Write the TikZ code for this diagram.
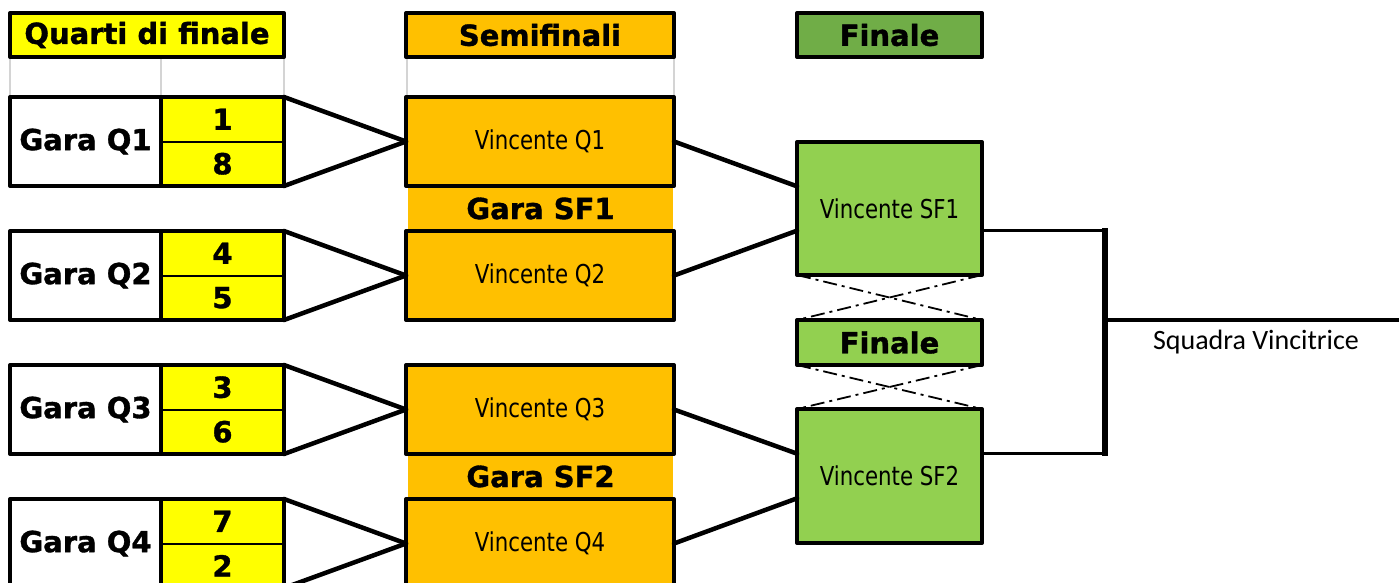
\documentclass[tikz,border=0pt]{standalone}
\usepackage{fontspec}
\usetikzlibrary{calc}
\newfontfamily\garafont{DejaVu Sans}[BoldFeatures={FakeBold=1.2}]
\newfontfamily\vincfont{DejaVu Sans}[FakeStretch=0.82]
\newfontfamily\squadfont{Carlito}
\definecolor{qyellow}{HTML}{FFFF00}
\definecolor{sforange}{HTML}{FFC000}
\definecolor{fgreen}{HTML}{70AD47}
\definecolor{sfgreen}{HTML}{92D050}
\definecolor{gridgray}{HTML}{D4D4D4}

\begin{document}
\begin{tikzpicture}[line cap=round,line join=round,x=1pt,y=-1pt,
	every node/.style={inner sep=0pt,outer sep=0pt},
	boldtext/.style={font=\garafont\bfseries\fontsize{29}{32}\selectfont},
	head/.style={boldtext,draw,line width=4pt,anchor=north west,minimum height=44pt},
	gara/.style={boldtext,draw,line width=4pt,anchor=north west,minimum width=151pt,minimum height=89pt},
	numcell/.style={boldtext,fill=qyellow,anchor=north west,minimum width=123pt,minimum height=44.5pt},
	vinc/.style={font=\vincfont\fontsize{26}{30}\selectfont,draw,line width=4pt,fill=sforange,anchor=north west,minimum width=268pt,minimum height=89pt},
	band/.style={boldtext,fill=sforange,anchor=north west,minimum width=265pt,minimum height=45pt},
	sfbox/.style={font=\vincfont\fontsize{26}{30}\selectfont,draw,line width=4pt,fill=sfgreen,anchor=north west,minimum width=185pt},
	link/.style={line width=4.5pt},
	cross/.style={line width=1.8pt,line cap=butt,dash pattern=on 14pt off 5pt on 3pt off 5pt}]
	\clip (0,0) rectangle (1399,583);
	\foreach \x in {10,161,284,407,674}
		\draw[gridgray,line width=1.2pt] (\x,57) -- (\x,97);
	\node[head,fill=qyellow,minimum width=274pt] (hq) at (10,13) {Quarti di finale};
	\node[head,fill=sforange,minimum width=268pt] (hs) at (406,13) {Semifinali};
	\node[head,fill=fgreen,minimum width=185pt] (hf) at (797,13) {Finale};
	\node[band] (sf1) at (408,186) {Gara SF1};
	\node[band] (sf2) at (408,454) {Gara SF2};
	\foreach \i/\t/\a/\b in {1/97/1/8,2/231/4/5,3/365/3/6,4/499/7/2} {
		\node[gara] (g\i) at (10,\t) {Gara Q\i};
		\node[numcell] (a\i) at (161,\t) {\a};
		\node[numcell] (b\i) at (161,\t+44.5) {\b};
		\draw[line width=4pt] (a\i.north west) rectangle (b\i.south east);
		\draw[line width=2pt] (a\i.south west) -- (a\i.south east);
		\node[vinc] (v\i) at (406,\t) {Vincente Q\i};
		\draw[link] (a\i.north east) -- (v\i.west);
		\draw[link] (b\i.south east) -- (v\i.west);
	}
	\node[sfbox,minimum height=133pt] (s1) at (797,142) {Vincente SF1};
	\node[sfbox,minimum height=45pt,boldtext] (fin) at (797,320) {Finale};
	\node[sfbox,minimum height=134pt] (s2) at (797,409) {Vincente SF2};
	\draw[link] (v1.east) -- ($(s1.north west)!1/3!(s1.south west)$);
	\draw[link] (v2.east) -- ($(s1.north west)!2/3!(s1.south west)$);
	\draw[link] (v3.east) -- ($(s2.north west)!1/3!(s2.south west)$);
	\draw[link] (v4.east) -- ($(s2.north west)!2/3!(s2.south west)$);
	\draw[cross] (s1.south west) -- (fin.north east);
	\draw[cross] (s1.south east) -- (fin.north west);
	\draw[cross] (fin.south west) -- (s2.north east);
	\draw[cross] (fin.south east) -- (s2.north west);
	\draw[line width=3.5pt] ($(s1.north east)!2/3!(s1.south east)$) -- ++(123,0) coordinate (jt);
	\draw[line width=3.5pt] ($(s2.north east)!1/3!(s2.south east)$) -- ++(123,0) coordinate (jb);
	\draw[line width=5.5pt,line cap=rect] (jt) -- (jb);
	\coordinate (wend) at (1399,320);
	\draw[line width=3.5pt] (jt |- fin.north) -- (wend);
	\node[font=\squadfont\fontsize{28}{32}\selectfont] (vincitrice) at (1256,342) {Squadra Vincitrice};
\end{tikzpicture}
\end{document}
